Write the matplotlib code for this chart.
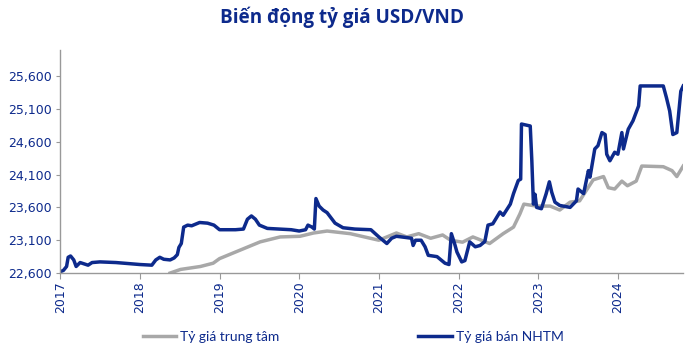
import matplotlib
matplotlib.use("Agg")
import matplotlib.pyplot as plt
from matplotlib.ticker import FuncFormatter

# decimal years
nhtm_x = [2017.00, 2017.04, 2017.08, 2017.10, 2017.13, 2017.17, 2017.20, 2017.25, 2017.30, 2017.35,
          2017.40, 2017.50, 2017.70, 2017.90, 2018.00, 2018.15, 2018.20, 2018.25, 2018.30, 2018.38,
          2018.43, 2018.47, 2018.49, 2018.52, 2018.55, 2018.60, 2018.65, 2018.75, 2018.85, 2018.93,
          2019.00, 2019.20, 2019.30, 2019.35, 2019.40, 2019.45, 2019.50, 2019.60, 2019.75, 2019.90,
          2020.00, 2020.08, 2020.11, 2020.16, 2020.19, 2020.21, 2020.25, 2020.30, 2020.35, 2020.45,
          2020.55, 2020.70, 2020.90, 2021.00, 2021.10, 2021.16, 2021.22, 2021.35, 2021.41, 2021.43,
          2021.46, 2021.53, 2021.58, 2021.62, 2021.73, 2021.83, 2021.88, 2021.91, 2021.95, 2021.98,
          2022.04, 2022.08, 2022.14, 2022.21, 2022.27, 2022.33, 2022.37, 2022.43, 2022.52, 2022.56,
          2022.65, 2022.69, 2022.75, 2022.78, 2022.79, 2022.90, 2022.92, 2022.94, 2022.96, 2022.98,
          2023.04, 2023.10, 2023.14, 2023.17, 2023.21, 2023.27, 2023.40, 2023.48, 2023.50, 2023.57,
          2023.63, 2023.65, 2023.71, 2023.75, 2023.80, 2023.84, 2023.86, 2023.90, 2023.96, 2024.00,
          2024.05, 2024.07, 2024.13, 2024.19, 2024.26, 2024.28, 2024.57, 2024.61, 2024.65, 2024.69,
          2024.74, 2024.76, 2024.79, 2024.82]
nhtm_y = [22620, 22640, 22700, 22840, 22860, 22800, 22700, 22760, 22740, 22720,
          22760, 22770, 22760, 22740, 22730, 22720, 22800, 22840, 22810, 22800,
          22830, 22880, 22990, 23050, 23300, 23330, 23320, 23370, 23360, 23330,
          23260, 23260, 23270, 23420, 23470, 23420, 23330, 23280, 23270, 23260,
          23240, 23260, 23330, 23300, 23270, 23735, 23620, 23560, 23520, 23360,
          23290, 23270, 23260, 23150, 23050, 23130, 23160, 23140, 23130, 23020,
          23100, 23100, 23000, 22870, 22850, 22750, 22730, 23200, 23050, 22920,
          22770, 22790, 23075, 23000, 23020, 23080, 23330, 23350, 23530, 23480,
          23650, 23810, 24010, 24030, 24870, 24840, 24310, 23650, 23800, 23600,
          23580, 23810, 23990, 23830, 23680, 23630, 23600, 23700, 23880, 23810,
          24160, 24060, 24490, 24540, 24740, 24710, 24410, 24310, 24440, 24410,
          24740, 24490, 24790, 24920, 25145, 25450, 25450, 25270, 25070, 24710,
          24740, 24990, 25370, 25450]

tt_x = [2018.38, 2018.51, 2018.76, 2018.92, 2019.00, 2019.26, 2019.51, 2019.76, 2020.01, 2020.18,
        2020.35, 2020.64, 2021.00, 2021.22, 2021.35, 2021.50, 2021.65, 2021.80, 2021.90, 2022.05,
        2022.18, 2022.39, 2022.56, 2022.69, 2022.77, 2022.82, 2022.98, 2023.15, 2023.27, 2023.40,
        2023.52, 2023.69, 2023.82, 2023.88, 2023.96, 2024.05, 2024.12, 2024.23, 2024.30, 2024.57,
        2024.68, 2024.74, 2024.82]
tt_y = [22600, 22655, 22700, 22750, 22820, 22950, 23075, 23150, 23160, 23210,
        23240, 23200, 23100, 23210, 23150, 23200, 23130, 23180, 23100, 23070,
        23150, 23050, 23200, 23300, 23500, 23650, 23620, 23620, 23560, 23680,
        23700, 24020, 24070, 23900, 23880, 24000, 23930, 24000, 24230, 24220,
        24160, 24070, 24230]

years = list(range(2017, 2025))
yticks = [22600, 23100, 23600, 24100, 24600, 25100, 25600]

navy = "#0d2a8c"
grey = "#a8a8a8"

fig = plt.figure(figsize=(7, 3.56), dpi=100)
ax = fig.add_axes([0.086, 0.233, 0.89, 0.627])

ax.plot(tt_x, tt_y, color=grey, lw=2.5, label="Tỷ giá trung tâm", solid_joinstyle="round")
ax.plot(nhtm_x, nhtm_y, color=navy, lw=2.5, label="Tỷ giá bán NHTM", solid_joinstyle="round")

ax.set_xlim(2017, 2024.82)
ax.set_ylim(22600, 26000)
ax.set_xticks(years)
ax.set_xticklabels([str(y) for y in years], rotation=90, color=navy, fontsize=9)
ax.set_yticks(yticks)
ax.yaxis.set_major_formatter(FuncFormatter(lambda v, p: f"{int(v):,}"))
ax.tick_params(axis="y", length=3, color="#999999", labelcolor=navy, labelsize=9, pad=3)
ax.tick_params(axis="x", length=4, color="#999999", pad=2)

for s in ["top", "right"]:
    ax.spines[s].set_visible(False)
for s in ["left", "bottom"]:
    ax.spines[s].set_color("#999999")
    ax.spines[s].set_linewidth(1)

fig.text(0.488, 0.95, "Biến động tỷ giá USD/VND", ha="center", va="center",
         fontsize=13.6, fontweight="bold", color=navy, family="Open Sans")

fig.legend(loc="center left", bbox_to_anchor=(0.204, 0.053), ncol=2, frameon=False,
           handlelength=2.4, columnspacing=10, handletextpad=0.3,
           borderpad=0, borderaxespad=0, labelcolor=navy,
           prop={"family": "Lato", "size": 10})

fig.savefig("out.png", dpi=100)
